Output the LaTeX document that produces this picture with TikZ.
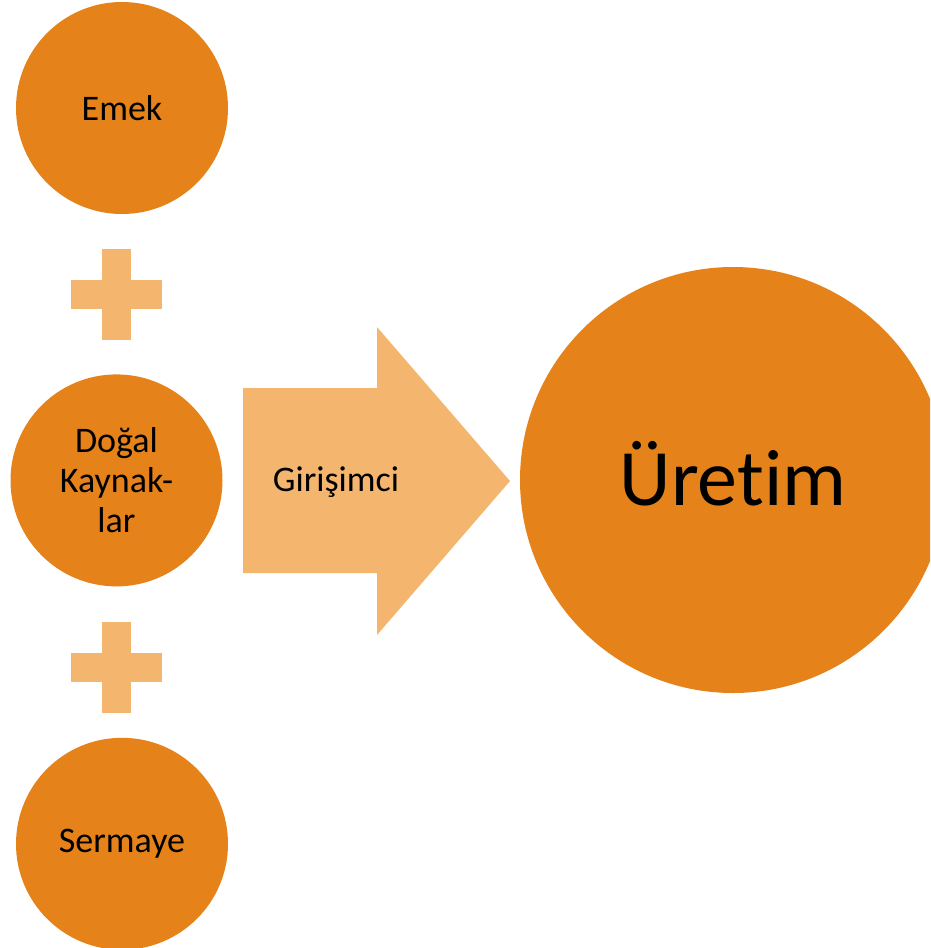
\documentclass[tikz,border=0pt]{standalone}
\usepackage{fontspec}
\setmainfont{Carlito}[Ligatures=NoCommon]
\usetikzlibrary{positioning}
\definecolor{darkorange}{HTML}{E5831A}
\definecolor{lightorange}{HTML}{F4B56E}
\tikzset{
    x=1pt, y=-1pt, % one unit is one pixel of the original
    factor/.style={circle, fill=darkorange, minimum size=212pt, inner sep=0pt, align=center, font=\fontsize{36}{40}\selectfont}, % the three inputs
    result/.style={circle, fill=darkorange, minimum size=426pt, inner sep=0pt, text depth=14pt, font=\fontsize{80}{90}\selectfont}, % the big output circle
    plusbar/.style={fill=lightorange}, % the plus signs
    }

\begin{document}
\begin{tikzpicture}
        \useasboundingbox (0,0) rectangle (930,948);
        \clip (0,0) rectangle (930,948);

        \node[factor] (emek) at (122,108) {Emek};
        \node[factor] (dogal) [below=160pt of emek, xshift=-5.5pt] {Doğal\\Kaynak-\\lar};
        \node[factor] (sermaye) [below=151pt of dogal, xshift=5.5pt] {Sermaye};
        \node[result] (uretim) at (733,480) {Üretim};

        % plus signs between the inputs
        \foreach \y in {294.5, 667} {
            \fill[plusbar] (70.7,\y-14.5) rectangle (161.7,\y+14.5);
            \fill[plusbar] (101.7,\y-45.5) rectangle (130.7,\y+45.5);
        }

        % the big arrow
        \fill[lightorange] (243,388) -- (377,388) -- (377,327) -- (510,481) -- (377,635) -- (377,573) -- (243,573) -- cycle;
        \node[anchor=base, font=\fontsize{36}{40}\selectfont] (girisimci) at (336,491) {Girişimci};
    \end{tikzpicture}
\end{document}
